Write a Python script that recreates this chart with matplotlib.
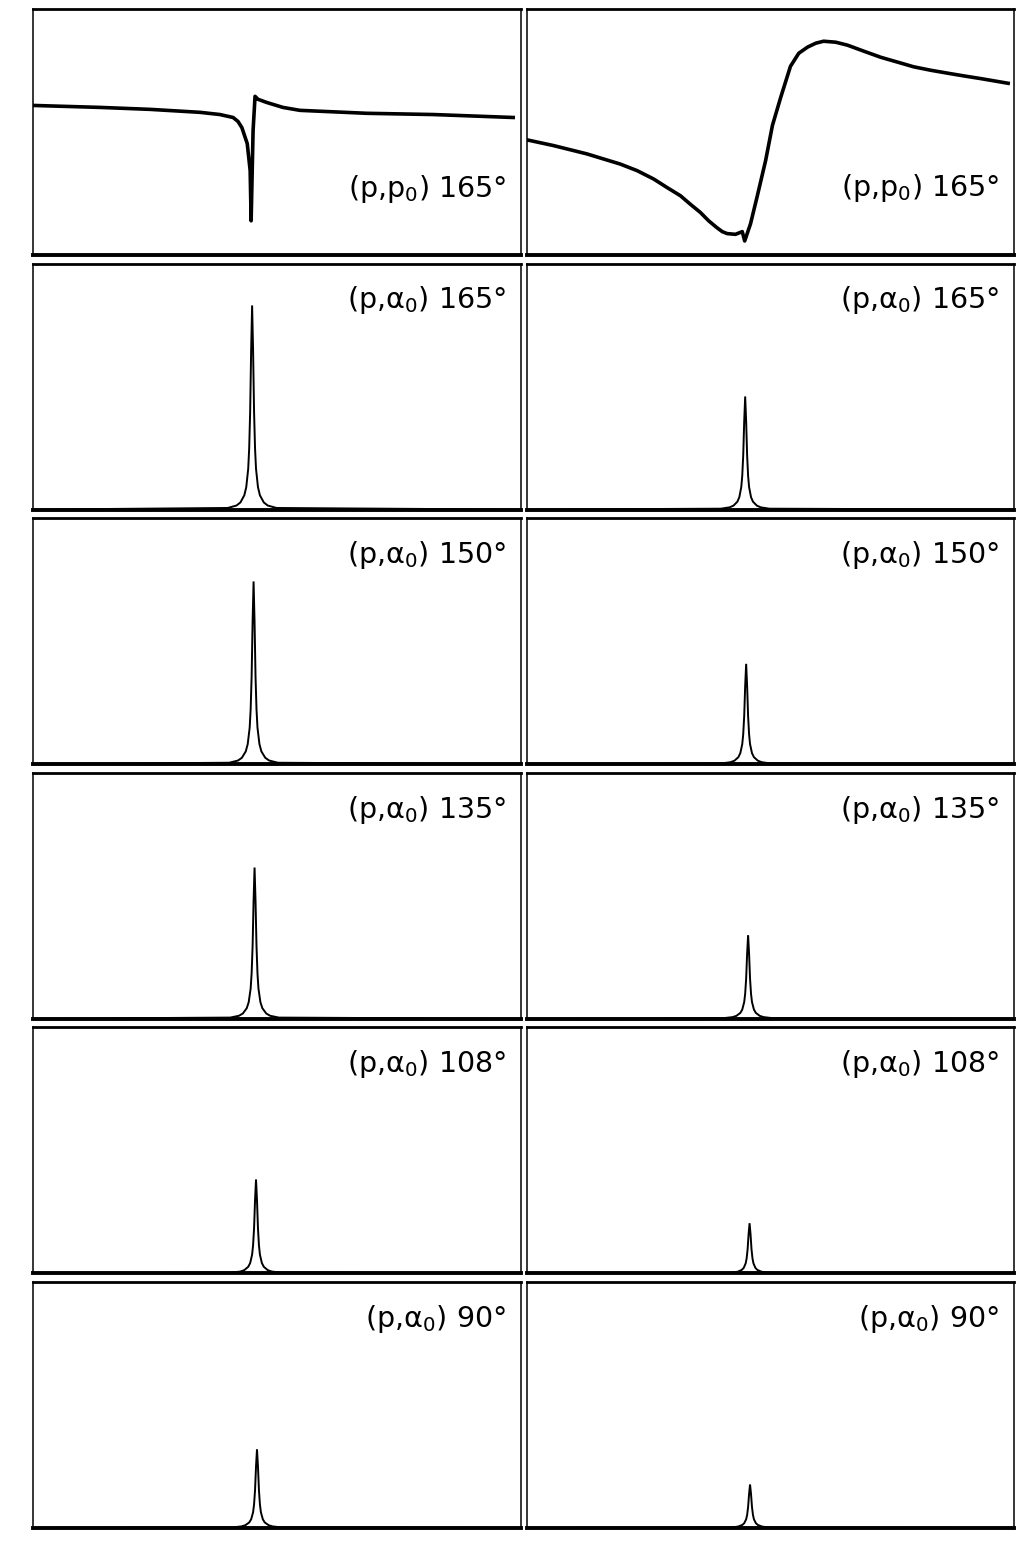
import matplotlib.pyplot as plt

plt.rcParams['font.family'] = ['DejaVu Sans']
plt.rcParams['mathtext.default'] = 'regular'

# energy axis in channels (0-100), yield normalised to the panel height

# elastic (p,p0) at 165 deg, left and right scan
pp_left_x = [0.0, 13.7, 24.0, 34.2, 38.3, 41.0, 42.0, 42.8, 43.9, 44.5, 44.7, 45.1, 45.5,
             46.1, 47.9, 51.2, 54.7, 68.4, 82.0, 98.4]
pp_left_y = [0.608, 0.600, 0.592, 0.580, 0.571, 0.559, 0.543, 0.518, 0.453, 0.343, 0.139,
             0.506, 0.645, 0.633, 0.620, 0.600, 0.588, 0.576, 0.571, 0.559]

pp_right_x = [0.0, 5.4, 12.3, 15.6, 19.1, 22.6, 26.0, 28.7, 31.5, 33.5, 35.6, 37.3, 39.0,
              40.1, 41.1, 42.8, 44.2, 44.7, 45.9, 47.3, 49.0, 50.4, 52.1, 54.1, 55.8,
              57.6, 59.3, 60.9, 63.4, 65.8, 69.1, 72.6, 76.1, 79.4, 82.9, 86.4, 89.7,
              93.2, 98.8]
pp_right_y = [0.468, 0.445, 0.411, 0.391, 0.370, 0.343, 0.309, 0.275, 0.241, 0.207, 0.173,
              0.139, 0.111, 0.095, 0.087, 0.084, 0.095, 0.057, 0.127, 0.241, 0.384, 0.527,
              0.641, 0.767, 0.820, 0.845, 0.861, 0.869, 0.865, 0.853, 0.829, 0.804, 0.784,
              0.765, 0.751, 0.739, 0.728, 0.717, 0.698]

# (p,alpha0) resonance line shape around the centre
peak_dx = [-5.0, -3.2, -2.4, -1.6, -1.2, -0.8, -0.6, -0.4, -0.2, 0.0,
           0.2, 0.4, 0.6, 0.8, 1.2, 1.6, 2.4, 3.2, 5.0]
peak_shape = [0.008, 0.02, 0.035, 0.07, 0.11, 0.20, 0.30, 0.48, 0.78, 1.0,
              0.78, 0.48, 0.30, 0.20, 0.11, 0.07, 0.035, 0.02, 0.008]

alpha_angles = ['165', '150', '135', '108', '90']
alpha_left_centre = [44.9, 45.2, 45.4, 45.7, 45.9]
alpha_left_height = [0.83, 0.743, 0.615, 0.382, 0.32]
alpha_right_centre = [44.8, 45.0, 45.4, 45.7, 45.8]
alpha_right_height = [0.46, 0.408, 0.34, 0.204, 0.177]

W, H = 1020, 1542
fig = plt.figure(figsize=(W / 100, H / 100), dpi=100, facecolor='white')

col_x = [33, 527]
col_w = [488, 487]
row_h = 246


def make_panel(row, col):
    top = 9 + row * 254.6
    ax = fig.add_axes([col_x[col] / W, 1 - (top + row_h) / H, col_w[col] / W, row_h / H])
    ax.set_xlim(0, 100)
    ax.set_ylim(0, 1)
    ax.set_xticks([])
    ax.set_yticks([])
    ax.spines['top'].set_linewidth(2.0)
    ax.spines['bottom'].set_linewidth(2.8)
    ax.spines['left'].set_linewidth(1.1)
    ax.spines['right'].set_linewidth(1.1)
    return ax


def label(ax, text, y):
    ax.text(0.97, y, text, transform=ax.transAxes, ha='right', va='baseline',
            fontsize=20.5, color='black')


def plot_peak(ax, centre, height):
    xs = [0.0] + [centre + d for d in peak_dx] + [100.0]
    ys = [0.0] + [height * s for s in peak_shape] + [0.0]
    ax.plot(xs, ys, color='black', lw=1.4, solid_joinstyle='miter')


# top row: elastic scattering
ax = make_panel(0, 0)
ax.plot(pp_left_x, pp_left_y, color='black', lw=2.6, solid_joinstyle='round')
label(ax, r'(p,p$_0$) 165°', 0.237)

ax = make_panel(0, 1)
ax.plot(pp_right_x, pp_right_y, color='black', lw=2.6, solid_joinstyle='round')
label(ax, r'(p,p$_0$) 165°', 0.241)

# (p,alpha0) rows
for i, ang in enumerate(alpha_angles):
    ax = make_panel(i + 1, 0)
    plot_peak(ax, alpha_left_centre[i], alpha_left_height[i])
    label(ax, r'(p,α$_0$) ' + ang + '°', 0.818)

    ax = make_panel(i + 1, 1)
    plot_peak(ax, alpha_right_centre[i], alpha_right_height[i])
    label(ax, r'(p,α$_0$) ' + ang + '°', 0.818)

fig.savefig('out.png', dpi=100, facecolor='white')
